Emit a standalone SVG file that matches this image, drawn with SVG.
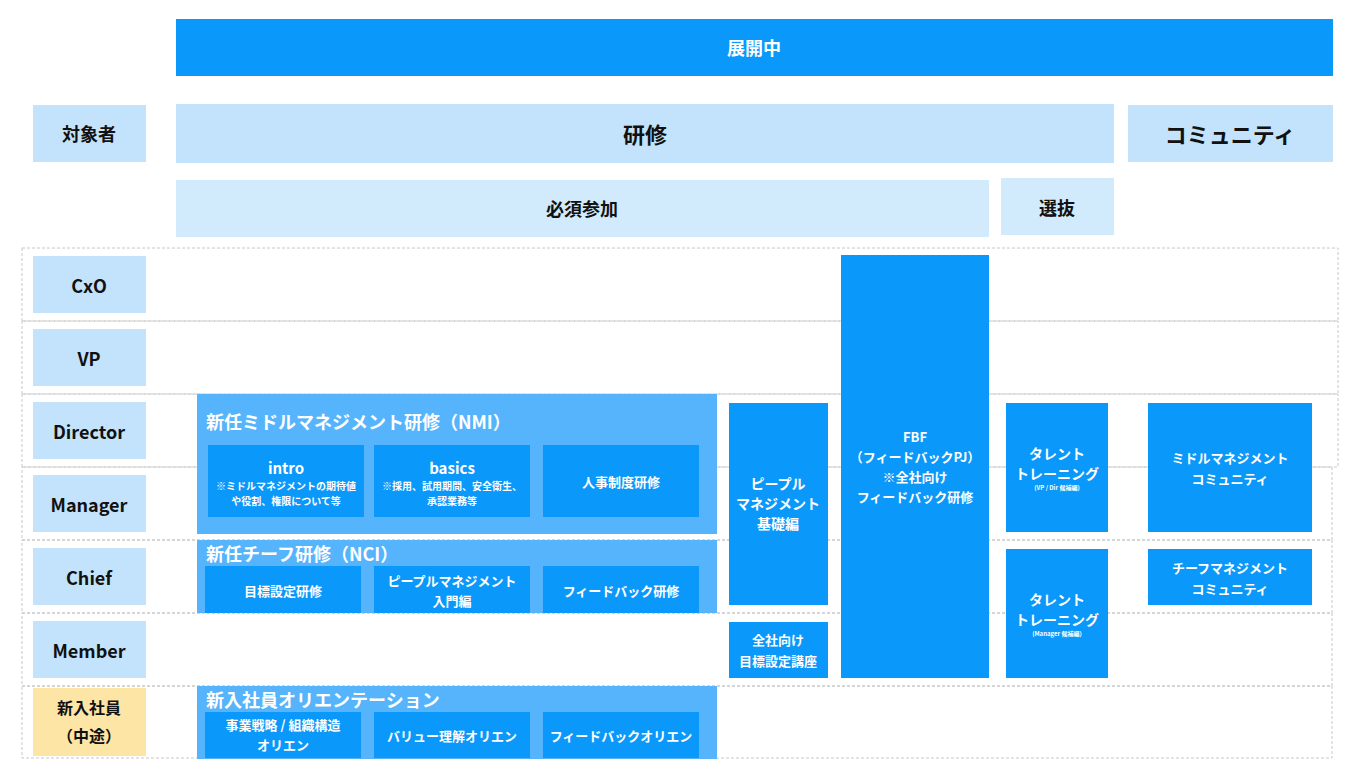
<svg xmlns="http://www.w3.org/2000/svg" width="1360" height="779" viewBox="0 0 1360 779">
<style>
text{font-family:"Noto Sans CJK JP","Liberation Sans",sans-serif;font-weight:bold;text-anchor:middle;dominant-baseline:central}
.lb{fill:#c2e3fb}.lb2{fill:#d2ebfc}.b{fill:#0a98fa}.m{fill:#55b4fb}
.w{fill:#fff}.k{fill:#111}
.row{fill:none;stroke:#c8c8c8;stroke-dasharray:3 2;stroke-width:1}
</style>
<rect width="1360" height="779" fill="#fff"/>
<g id="rows">
<rect class="row" x="22" y="248" width="1316" height="73"/>
<rect class="row" x="22" y="321" width="1316" height="73"/>
<rect class="row" x="22" y="394" width="1316" height="73"/>
<rect class="row" x="22" y="467" width="1310" height="73"/>
<rect class="row" x="22" y="540" width="1310" height="73"/>
<rect class="row" x="22" y="613" width="1310" height="73"/>
<rect class="row" x="22" y="686" width="1310" height="72"/>
</g>
<g id="header">
<rect class="b" x="176" y="19" width="1157" height="57"/><text class="w" x="754" y="47" font-size="18">展開中</text>
<rect class="lb" x="33" y="105" width="113" height="57"/><text class="k" x="89" y="133" font-size="18">対象者</text>
<rect class="lb" x="176" y="104" width="938" height="59"/><text class="k" x="645" y="133" font-size="22">研修</text>
<rect class="lb" x="1128" y="105" width="205" height="57"/><text class="k" x="1230" y="133" font-size="22">コミュニティ</text>
<rect class="lb2" x="176" y="180" width="813" height="57"/><text class="k" x="582" y="208" font-size="18">必須参加</text>
<rect class="lb2" x="1001" y="178" width="113" height="57"/><text class="k" x="1057" y="207" font-size="18">選抜</text>
</g>
<g id="labels">
<rect class="lb" x="33" y="256" width="113" height="57"/><text class="k" x="89" y="285" font-size="18">CxO</text>
<rect class="lb" x="33" y="329" width="113" height="57"/><text class="k" x="89" y="358" font-size="18">VP</text>
<rect class="lb" x="33" y="402" width="113" height="57"/><text class="k" x="89" y="431" font-size="18">Director</text>
<rect class="lb" x="33" y="475" width="113" height="57"/><text class="k" x="89" y="504" font-size="18">Manager</text>
<rect class="lb" x="33" y="548" width="113" height="57"/><text class="k" x="89" y="577" font-size="18">Chief</text>
<rect class="lb" x="33" y="621" width="113" height="57"/><text class="k" x="89" y="650" font-size="18">Member</text>
<rect x="33" y="688" width="113" height="68" fill="#fde5a6"/><text class="k" x="89" y="707" font-size="16">新入社員</text><text class="k" x="89" y="735" font-size="16">（中途）</text>
</g>
<g id="nmi">
<rect class="m" x="197" y="394" width="520" height="140"/>
<text class="w" x="206" y="421" font-size="18" style="text-anchor:start">新任ミドルマネジメント研修（NMI）</text>
<rect class="b" x="208" y="445" width="156" height="72"/><text class="w" x="286" y="467" font-size="15">intro</text><text class="w" x="286" y="485" font-size="10">※ミドルマネジメントの期待値</text><text class="w" x="286" y="500" font-size="10">や役割、権限について等</text>
<rect class="b" x="374" y="445" width="156" height="72"/><text class="w" x="452" y="467" font-size="15">basics</text><text class="w" x="452" y="485" font-size="10">※採用、試用期間、安全衛生、</text><text class="w" x="452" y="500" font-size="10">承認業務等</text>
<rect class="b" x="543" y="445" width="156" height="72"/><text class="w" x="621" y="481" font-size="13">人事制度研修</text>
</g>
<g id="nci">
<rect class="m" x="197" y="540" width="520" height="73"/>
<text class="w" x="206" y="553" font-size="18" style="text-anchor:start">新任チーフ研修（NCI）</text>
<rect class="b" x="205" y="566" width="156" height="47"/><text class="w" x="283" y="590" font-size="13">目標設定研修</text>
<rect class="b" x="374" y="566" width="156" height="47"/><text class="w" x="452" y="580" font-size="13">ピープルマネジメント</text><text class="w" x="452" y="600" font-size="13">入門編</text>
<rect class="b" x="543" y="566" width="156" height="47"/><text class="w" x="621" y="590" font-size="13">フィードバック研修</text>
</g>
<g id="orient">
<rect class="m" x="197" y="686" width="520" height="73"/>
<text class="w" x="206" y="699" font-size="18" style="text-anchor:start">新入社員オリエンテーション</text>
<rect class="b" x="205" y="712" width="156" height="46"/><text class="w" x="283" y="724" font-size="13">事業戦略 / 組織構造</text><text class="w" x="283" y="744" font-size="13">オリエン</text>
<rect class="b" x="374" y="712" width="156" height="46"/><text class="w" x="452" y="735" font-size="13">バリュー理解オリエン</text>
<rect class="b" x="543" y="712" width="156" height="46"/><text class="w" x="621" y="735" font-size="13">フィードバックオリエン</text>
</g>
<g id="people">
<rect class="b" x="729" y="403" width="99" height="202"/>
<text class="w" x="778" y="483" font-size="14">ピープル</text><text class="w" x="778" y="503" font-size="14">マネジメント</text><text class="w" x="778" y="523" font-size="14">基礎編</text>
</g>
<g id="goal">
<rect class="b" x="729" y="622" width="99" height="56"/>
<text class="w" x="778" y="639" font-size="13">全社向け</text><text class="w" x="778" y="660" font-size="13">目標設定講座</text>
</g>
<g id="fbf">
<rect class="b" x="841" y="255" width="148" height="423"/>
<text class="w" x="915" y="436" font-size="13">FBF</text><text class="w" x="915" y="456" font-size="13">（フィードバックPJ）</text><text class="w" x="915" y="476" font-size="13">※全社向け</text><text class="w" x="915" y="496" font-size="13">フィードバック研修</text>
</g>
<g id="talent1">
<rect class="b" x="1006" y="403" width="102" height="129"/>
<text class="w" x="1057" y="453" font-size="14">タレント</text><text class="w" x="1057" y="473" font-size="14">トレーニング</text><text class="w" x="1057" y="487" font-size="6">(VP / Dir 候補編)</text>
</g>
<g id="talent2">
<rect class="b" x="1006" y="549" width="102" height="129"/>
<text class="w" x="1057" y="599" font-size="14">タレント</text><text class="w" x="1057" y="619" font-size="14">トレーニング</text><text class="w" x="1057" y="633" font-size="6">(Manager 候補編)</text>
</g>
<g id="mmc">
<rect class="b" x="1148" y="403" width="164" height="129"/>
<text class="w" x="1230" y="457" font-size="13">ミドルマネジメント</text><text class="w" x="1230" y="478" font-size="13">コミュニティ</text>
</g>
<g id="cmc">
<rect class="b" x="1148" y="549" width="164" height="56"/>
<text class="w" x="1230" y="567" font-size="13">チーフマネジメント</text><text class="w" x="1230" y="588" font-size="13">コミュニティ</text>
</g>
<g id="connectors"/>
</svg>
